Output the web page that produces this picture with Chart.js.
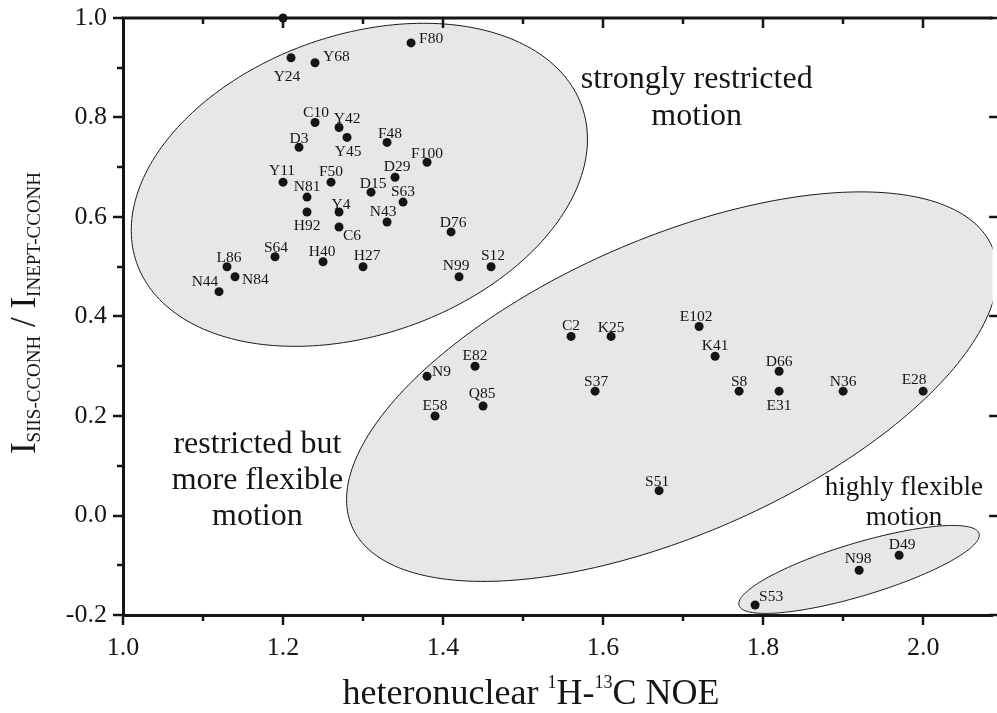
<!DOCTYPE html>
<html><head><meta charset="utf-8">
<script src="https://cdn.jsdelivr.net/npm/chart.js@4/dist/chart.umd.min.js"></script>
<style>html,body{margin:0;padding:0;background:#fff}#wrap{width:997px;height:713px}</style>
</head><body><div id="wrap"><canvas id="c" width="997" height="713"></canvas></div>
<script>
// ---- data ----
const residues = ['', 'Y24','Y68','F80','C10','Y42','Y45','D3','F48','F100','D29','Y11','F50','D15','N81','S63','Y4','H92','N43','C6','D76','S64','H40','H27','L86','N99','S12','N84','N44',
  'N9','E82','E58','Q85','C2','K25','S37','E102','K41','D66','S8','E31','N36','E28','S51','D49','N98','S53'];
const noe = [1.20, 1.21,1.24,1.36,1.24,1.27,1.28,1.22,1.33,1.38,1.34,1.20,1.26,1.31,1.23,1.35,1.27,1.23,1.33,1.27,1.41,1.19,1.25,1.30,1.13,1.42,1.46,1.14,1.12,
  1.38,1.44,1.39,1.45,1.56,1.61,1.59,1.72,1.74,1.82,1.77,1.82,1.90,2.00,1.67,1.97,1.92,1.79];
const intensityRatio = [1.00, 0.92,0.91,0.95,0.79,0.78,0.76,0.74,0.75,0.71,0.68,0.67,0.67,0.65,0.64,0.63,0.61,0.61,0.59,0.58,0.57,0.52,0.51,0.50,0.50,0.48,0.50,0.48,0.45,
  0.28,0.30,0.20,0.22,0.36,0.36,0.25,0.38,0.32,0.29,0.25,0.25,0.25,0.25,0.05,-0.08,-0.11,-0.18];
const xTickValues = [1.0,1.2,1.4,1.6,1.8,2.0];
const yTickValues = [-0.2,0.0,0.2,0.4,0.6,0.8,1.0];
// grouping regions (ellipses) in data units: centre and two conjugate semi-axis vectors
const regionCentresX = [1.2954, 1.6862, 1.9199];
const regionCentresY = [0.6647, 0.2590, -0.1084];
const regionMajor = [[0.2784,0.1565],[0.4001,0.2809],[0.150,0.0722]];
const regionMinor = [[0.0614,-0.2845],[0.0734,-0.2727],[0.00942,-0.0510]];
const regionNotes = [['strongly restricted','motion'],['restricted but','more flexible','motion'],['highly flexible','motion']];
const noteAnchorX = [1.717, 1.168, 1.976];
const noteAnchorY = [0.876, 0.143, 0.056];

// ---- label placement (style) ----
const labelOffset = {
 Y24:[-4,19,'c'],Y68:[8,-6,'l'],F80:[8,-4,'l'],C10:[1,-10,'c'],Y42:[8,-9,'c'],Y45:[1,15,'c'],D3:[0,-8,'c'],F48:[3,-8,'c'],F100:[0,-8,'c'],
 D29:[2,-10,'c'],Y11:[-1,-11,'c'],F50:[0,-10,'c'],D15:[2,-8,'c'],N81:[0,-10,'c'],S63:[0,-10,'c'],Y4:[2,-7,'c'],H92:[0,14,'c'],N43:[-4,-10,'c'],
 C6:[13,9,'c'],D76:[2,-9,'c'],S64:[1,-9,'c'],H40:[-1,-10,'c'],H27:[4,-11,'c'],L86:[2,-9,'c'],N99:[-3,-11,'c'],S12:[2,-11,'c'],N84:[7,3,'l'],
 N44:[-14,-10,'c'],N9:[5,-4,'l'],E82:[0,-10,'c'],E58:[0,-10,'c'],Q85:[-1,-12,'c'],C2:[0,-10,'c'],K25:[0,-8,'c'],S37:[1,-9,'c'],E102:[-3,-10,'c'],
 K41:[0,-10,'c'],D66:[0,-9,'c'],S8:[0,-9,'c'],E31:[0,15,'c'],N36:[0,-9,'c'],E28:[-9,-11,'c'],S51:[-2,-9,'c'],D49:[3,-10,'c'],N98:[-1,-11,'c'],S53:[4,-8,'l']
};
const noteFont = [32, 32, 27];
const noteLine = [37, 36, 30];
const SERIF = '"Liberation Serif", "Times New Roman", serif';
const INK = '#151515';

const points = noe.map((x,i)=>({x:x, y:intensityRatio[i]}));

const regionsPlugin = {
  id:'regions',
  beforeDatasetsDraw(chart){
    const {ctx, chartArea:a, scales:{x,y}} = chart;
    ctx.save();
    ctx.beginPath(); ctx.rect(a.left, a.top, a.right-a.left, a.bottom-a.top); ctx.clip();
    for(let r=0;r<regionCentresX.length;r++){
      ctx.beginPath();
      const N=240;
      for(let k=0;k<=N;k++){
        const t=2*Math.PI*k/N;
        const dx=regionCentresX[r]+regionMajor[r][0]*Math.cos(t)+regionMinor[r][0]*Math.sin(t);
        const dy=regionCentresY[r]+regionMajor[r][1]*Math.cos(t)+regionMinor[r][1]*Math.sin(t);
        const px=x.getPixelForValue(dx), py=y.getPixelForValue(dy);
        if(k===0) ctx.moveTo(px,py); else ctx.lineTo(px,py);
      }
      ctx.closePath();
      ctx.fillStyle='#e6e7e9'; ctx.fill();
      ctx.lineWidth=1; ctx.strokeStyle='#1a1a1a'; ctx.stroke();
    }
    ctx.restore();
  },
  afterDatasetsDraw(chart){
    const {ctx, scales:{x,y}} = chart;
    ctx.save();
    // point labels
    ctx.font = '15.5px '+SERIF; ctx.fillStyle=INK; ctx.textBaseline='middle';
    residues.forEach((name,i)=>{
      if(!name) return;
      const o = labelOffset[name]||[0,-10,'c'];
      ctx.textAlign = o[2]==='l'?'left':(o[2]==='r'?'right':'center');
      ctx.fillText(name, x.getPixelForValue(noe[i])+o[0], y.getPixelForValue(intensityRatio[i])+o[1]);
    });
    // region notes
    ctx.textAlign='center'; ctx.textBaseline='middle';
    regionNotes.forEach((lines,r)=>{
      ctx.font = noteFont[r]+'px '+SERIF;
      const cx=x.getPixelForValue(noteAnchorX[r]), cy=y.getPixelForValue(noteAnchorY[r]);
      lines.forEach((ln,j)=>ctx.fillText(ln, cx, cy+j*noteLine[r]));
    });
    ctx.restore();
  },
  afterDraw(chart){
    const {ctx, chartArea:a, scales:{x,y}} = chart;
    ctx.save();
    ctx.strokeStyle=INK; ctx.lineCap='butt';
    // top frame line
    ctx.lineWidth=3;
    ctx.beginPath(); ctx.moveTo(a.left-1.5, a.top); ctx.lineTo(a.right, a.top); ctx.stroke();
    ctx.lineWidth=2.5;
    // x ticks (bottom outward, top inward)
    for(let k=10;k<=21;k++){
      const v=k/10, px=Math.round(x.getPixelForValue(v));
      if(px>a.right+20) continue;
      const major = k%2===0, L = major?10:6;
      ctx.beginPath(); ctx.moveTo(px,a.bottom); ctx.lineTo(px,a.bottom+L); ctx.stroke();
      if(k>10){ ctx.beginPath(); ctx.moveTo(px,a.top); ctx.lineTo(px,a.top+L); ctx.stroke(); }
    }
    // y ticks (left outward, right inward from the cropped right axis)
    const rightAxis = x.getPixelForValue(2.1);
    for(let k=-2;k<=10;k++){
      const v=k/10, py=Math.round(y.getPixelForValue(v));
      const major = k%2===0, L = major?10:6;
      ctx.beginPath(); ctx.moveTo(a.left,py); ctx.lineTo(a.left-L,py); ctx.stroke();
      ctx.beginPath(); ctx.moveTo(rightAxis,py); ctx.lineTo(rightAxis-(major?14:6),py); ctx.stroke();
    }
    // x title with superscripts
    const big = '36px '+SERIF, small = '18px '+SERIF;
    const parts = [['heteronuclear ',big,0],['1',small,-16],['H-',big,0],['13',small,-16],['C NOE',big,0]];
    let w=0; parts.forEach(p=>{ctx.font=p[1]; w+=ctx.measureText(p[0]).width;});
    let cx = 531 - w/2, base = 704;
    ctx.fillStyle=INK; ctx.textAlign='left'; ctx.textBaseline='alphabetic';
    parts.forEach(p=>{ctx.font=p[1]; ctx.fillText(p[0], cx, base+p[2]); cx+=ctx.measureText(p[0]).width;});
    // y title with subscripts, rotated
    ctx.save();
    ctx.translate(35, 313); ctx.rotate(-Math.PI/2);
    const bigY = '35px '+SERIF, subY = '19px '+SERIF;
    const yparts = [['I',bigY,0],['SIIS-CCONH',subY,5],[' / ',bigY,0],['I',bigY,0],['INEPT-CCONH',subY,5]];
    let wy=0; yparts.forEach(p=>{ctx.font=p[1]; wy+=ctx.measureText(p[0]).width;});
    let tx=-wy/2;
    yparts.forEach(p=>{ctx.font=p[1]; ctx.fillText(p[0], tx, p[2]); tx+=ctx.measureText(p[0]).width;});
    ctx.restore();
    ctx.restore();
  }
};

new Chart(document.getElementById('c'), {
  type:'scatter',
  data:{datasets:[{data:points, pointRadius:4.5, pointHoverRadius:4.5, backgroundColor:INK, borderWidth:0, clip:false}]},
  options:{
    responsive:false, animation:false, devicePixelRatio:1,
    layout:{padding:{top:18,right:0,left:0,bottom:0}},
    plugins:{legend:{display:false}, tooltip:{enabled:false}},
    scales:{
      x:{type:'linear', min:1.0, max:2.0867,
        afterBuildTicks:s=>{s.ticks = xTickValues.map(v=>({value:v}));},
        afterFit:s=>{s.height=98; s.paddingLeft=0; s.paddingRight=0;},
        border:{display:true, width:3, color:INK},
        grid:{display:false},
        ticks:{font:{family:SERIF,size:26}, color:INK, padding:10, maxRotation:0, callback:v=>Number(v).toFixed(1)}},
      y:{type:'linear', min:-0.2, max:1.0,
        afterBuildTicks:s=>{s.ticks = yTickValues.map(v=>({value:v}));},
        afterFit:s=>{s.width=123; s.paddingTop=0; s.paddingBottom=0;},
        border:{display:true, width:3, color:INK},
        grid:{display:false},
        ticks:{font:{family:SERIF,size:26}, color:INK, padding:8, callback:v=>Number(v).toFixed(1)}}
    }
  },
  plugins:[regionsPlugin]
});
</script>
</body></html>
